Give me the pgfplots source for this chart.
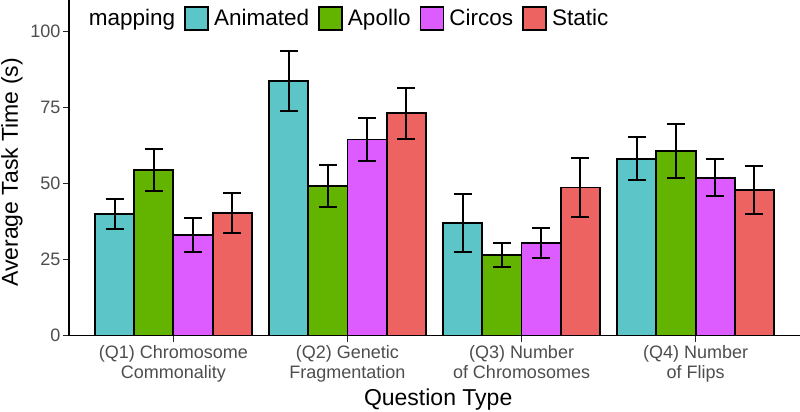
\documentclass[border=0pt]{standalone}
\usepackage{pgfplots}
\pgfplotsset{compat=1.18}
\usepackage{pgfplotstable}
\usepackage{fontspec}
\setmainfont{Liberation Sans}
\definecolor{cA}{RGB}{92,197,200}
\definecolor{cB}{RGB}{98,180,0}
\definecolor{cC}{RGB}{220,92,255}
\definecolor{cD}{RGB}{236,99,97}
\definecolor{tickgray}{RGB}{77,77,77}

% x = bar centre (category position 1..4 with dodge offset), y = mean, e = error half-width
\pgfplotstableread{
x y e
0.6625 40.0 5.0
1.6625 83.7 9.9
2.6625 36.9 9.55
3.6625 58.2 7.05
}\animated
\pgfplotstableread{
x y e
0.8875 54.4 6.85
1.8875 49.2 7.0
2.8875 26.5 3.85
3.8875 60.7 8.95
}\apollo
\pgfplotstableread{
x y e
1.1125 33.1 5.55
2.1125 64.5 6.95
3.1125 30.4 4.9
4.1125 51.9 6.05
}\circos
\pgfplotstableread{
x y e
1.3375 40.4 6.55
2.3375 73.1 8.35
3.3375 48.7 9.65
4.3375 47.9 7.9
}\static

\pgfplotsset{
  mybar/.style={
    ybar, bar width=0.225, bar shift=0pt,
    error bars/y dir=both, error bars/y explicit,
    error bars/error bar style={line width=2pt, black},
    error bars/error mark options={rotate=90, mark size=9pt, line width=2pt, black},
  },
  mykey/.style={legend image code/.code={
    \draw[##1, draw=black, line width=1.9pt] (0pt,-11.5pt) rectangle (23pt,11.5pt);}},
}

\begin{document}
\begin{tikzpicture}
\useasboundingbox (-69pt,-76.5pt) rectangle (731pt,335.5pt);
\begin{axis}[
  at={(0pt,0pt)}, anchor=south west,
  scale only axis, width=731pt, height=335.5pt,
  xmin=0.4, xmax=4.6, ymin=0, ymax=110.4,
  axis lines=left, axis line style={-, line width=1.9pt, black},
  xtick={1,2,3,4},
  xticklabels={{(Q1) Chromosome\\Commonality},{(Q2) Genetic\\Fragmentation},{(Q3) Number\\of Chromosomes},{(Q4) Number\\of Flips}},
  ytick={0,25,50,75,100},
  tick align=outside, major tick length=6pt,
  tick style={line width=1.6pt, black!85},
  /pgf/number format/assume math mode=true,
  ticklabel style={font=\fontsize{18}{20}\selectfont, text=tickgray},
  xticklabel style={align=center},
  yticklabel style={xshift=1pt},
  ylabel={Average Task Time (s)},
  ylabel style={at={(axis description cs:-0.078,0.486)}, anchor=center, font=\fontsize{23}{27}\selectfont},
  xlabel={Question Type},
  xlabel style={at={(axis description cs:0.505,-0.192)}, anchor=center, font=\fontsize{23}{27}\selectfont},
  legend columns=-1,
  legend cell align=left,
  legend style={at={(axis description cs:0.02,0.983)}, anchor=north west, draw=none, fill=none,
    inner sep=0pt, font=\fontsize{22.5}{27}\selectfont,
    /tikz/every odd column/.append style={column sep=3pt},
    /tikz/every even column/.append style={column sep=7pt}},
]
\addlegendimage{empty legend}
\addlegendentry{mapping\hspace{7pt}}
\addplot[mybar, fill=cA, draw=black, line width=1.9pt, mykey] table[x=x,y=y,y error=e]{\animated};
\addlegendentry{Animated}
\addplot[mybar, fill=cB, draw=black, line width=1.9pt, mykey] table[x=x,y=y,y error=e]{\apollo};
\addlegendentry{Apollo}
\addplot[mybar, fill=cC, draw=black, line width=1.9pt, mykey] table[x=x,y=y,y error=e]{\circos};
\addlegendentry{Circos}
\addplot[mybar, fill=cD, draw=black, line width=1.9pt, mykey] table[x=x,y=y,y error=e]{\static};
\addlegendentry{Static}
\end{axis}
\end{tikzpicture}
\end{document}
